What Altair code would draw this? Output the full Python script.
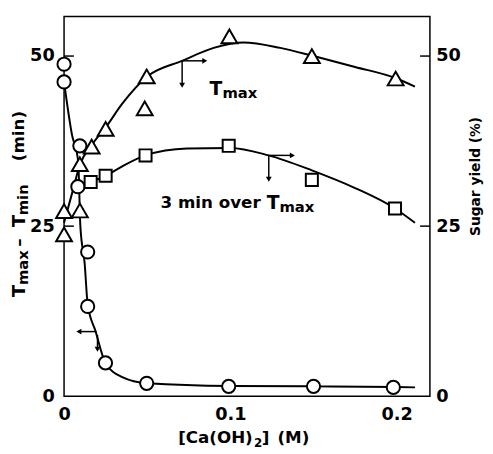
import altair as alt
import pandas as pd

FONT = "DejaVu Sans"

# ---- measured points ----
circ_x = [0.0, 0.0, 0.0095, 0.0083, 0.0142, 0.0142, 0.0249, 0.0497, 0.099, 0.150, 0.198]
circ_y = [48.8, 46.2, 36.8, 30.8, 21.2, 13.2, 4.9, 1.9, 1.45, 1.45, 1.3]

tri_x = [0.0, 0.0, 0.0095, 0.0095, 0.0166, 0.025, 0.0497, 0.0485, 0.0994, 0.149, 0.1994]
tri_y = [27.2, 23.8, 27.3, 34.1, 36.7, 39.3, 47.0, 42.3, 52.9, 50.0, 46.7]

sq_x = [0.016, 0.025, 0.049, 0.099, 0.149, 0.199]
sq_y = [31.5, 32.4, 35.4, 36.8, 31.8, 27.6]

# ---- hand-drawn fitted curves ----
circ_curve_x = [0.0, 0.0047, 0.0085, 0.0098, 0.0124, 0.0142, 0.0189, 0.0249, 0.035, 0.05, 0.1, 0.15, 0.2, 0.211]
circ_curve_y = [46.2, 38.5, 34.5, 25.0, 19.5, 13.5, 9.6, 4.9, 2.8, 1.9, 1.5, 1.45, 1.35, 1.3]

tri_curve_x = [0.0, 0.005, 0.0095, 0.0166, 0.025, 0.035, 0.05, 0.071, 0.09, 0.108, 0.13, 0.15, 0.175, 0.2, 0.211]
tri_curve_y = [25.5, 30.0, 34.0, 36.9, 39.5, 43.0, 47.0, 49.3, 51.2, 52.0, 51.2, 50.0, 48.4, 46.7, 45.5]

sq_curve_x = [0.016, 0.025, 0.035, 0.049, 0.074, 0.1, 0.123, 0.149, 0.175, 0.199, 0.211]
sq_curve_y = [31.5, 32.4, 33.8, 35.4, 36.4, 36.5, 35.4, 33.2, 30.6, 27.6, 25.5]

# axis ticks
x_ticks = [0, 0.1, 0.2]
y_ticks = [0, 25, 50]
inner_ticks = [25, 50]

# arrows (data coordinates): start, end, head shape
arr_x1 = [0.071, 0.071, 0.1231, 0.1231, 0.0195, 0.0201]
arr_y1 = [49.3, 49.3, 35.4, 35.4, 9.5, 9.0]
arr_x2 = [0.0846, 0.071, 0.1373, 0.1231, 0.0089, 0.0201]
arr_y2 = [49.3, 45.7, 35.4, 31.9, 9.5, 6.9]
arr_head = ["triangle-right", "triangle-down", "triangle-right", "triangle-down", "triangle-left", "triangle-down"]

# text pieces (pixel offsets from plot origin)
h_text = ["T", "max", "3 min over", "T", "max", "[Ca(OH)", "2", "]", "(M)"]
h_px = [148, 161, 98, 206, 219, 116, 193, 201, 217]
h_py = [80, 83, 195, 196, 199, 434, 438, 434, 434]
h_fs = [19, 15, 17, 19, 15, 17, 12, 17, 17]

v_text = ["T", "max", "\u2013", "T", "min", "(min)"]
v_px = [-40, -37, -41, -40, -37, -41]
v_py = [285, 273, 234, 214, 202, 147]
v_fs = [18, 15, 17, 18, 15, 17]

W, H = 372, 386
XMAX, YMAX = 0.22, 55.8

xscale = alt.Scale(domain=[0, XMAX], nice=False, zero=False)
yscale = alt.Scale(domain=[0, YMAX], nice=False, zero=False)

xaxis = alt.Axis(values=x_ticks, labelExpr="datum.value == 0 ? '0' : format(datum.value, '.1f')",
                 tickSize=0, domain=False, grid=False, labelPadding=10, labelFlush=False, title=None)
yaxis_left = alt.Axis(values=y_ticks, tickSize=0, domain=False, grid=False, labelPadding=10, title=None)
yaxis_right = alt.Axis(values=y_ticks, orient="right", tickSize=0, domain=False, grid=False,
                       labelPadding=6, title="Sugar yield (%)", titleAngle=270, titleX=46, titleY=162,
                       titleAlign="center", titleBaseline="middle", titleFontSize=14)

X = alt.X("x:Q", scale=xscale, axis=xaxis)

def Y(axis=None):
    return alt.Y("y:Q", scale=yscale, axis=axis)

df_cc = pd.DataFrame({"x": circ_curve_x, "y": circ_curve_y})
df_tc = pd.DataFrame({"x": tri_curve_x, "y": tri_curve_y})
df_sc = pd.DataFrame({"x": sq_curve_x, "y": sq_curve_y})
df_c = pd.DataFrame({"x": circ_x, "y": circ_y})
df_t = pd.DataFrame({"x": tri_x, "y": tri_y})
df_s = pd.DataFrame({"x": sq_x, "y": sq_y})
df_arr = pd.DataFrame({"x": arr_x1, "y": arr_y1, "x2": arr_x2, "y2": arr_y2, "s": arr_head})
df_tick = pd.DataFrame({"y": inner_ticks})
df_h = pd.DataFrame({"t": h_text, "px": h_px, "py": h_py, "fs": h_fs})
df_v = pd.DataFrame({"t": v_text, "px": v_px, "py": v_py, "fs": v_fs})

line_kw = dict(color="black", strokeWidth=2, interpolate="monotone")
pt_kw = dict(filled=True, fill="white", stroke="black", strokeWidth=2, opacity=1)

l_circ = alt.Chart(df_cc).mark_line(**line_kw).encode(x=X, y=Y(yaxis_left))
l_tri = alt.Chart(df_tc).mark_line(**line_kw).encode(x=X, y=Y(yaxis_right))
l_sq = alt.Chart(df_sc).mark_line(**line_kw).encode(x=X, y=Y())

p_circ = alt.Chart(df_c).mark_point(shape="circle", size=180, **pt_kw).encode(x=X, y=Y())
p_tri = alt.Chart(df_t).mark_point(shape="triangle-up", size=260, **pt_kw).encode(x=X, y=Y())
p_sq = alt.Chart(df_s).mark_point(shape="square", size=150, **pt_kw).encode(x=X, y=Y())

arr_lines = alt.Chart(df_arr).mark_rule(color="black", strokeWidth=1.5).encode(
    x=X, y=Y(), x2="x2:Q", y2="y2:Q")
arr_heads = alt.Chart(df_arr).mark_point(filled=True, color="black", size=35, opacity=1).encode(
    x=alt.X("x2:Q", scale=xscale, axis=xaxis), y=alt.Y("y2:Q", scale=yscale, axis=None),
    shape=alt.Shape("s:N", scale=None, legend=None))

tick_l = alt.Chart(df_tick).mark_rule(color="black", strokeWidth=1.5).encode(
    y=Y(), x=alt.value(0), x2=alt.value(10))
tick_r = alt.Chart(df_tick).mark_rule(color="black", strokeWidth=1.5).encode(
    y=Y(), x=alt.value(W - 10), x2=alt.value(W))

txt_h = alt.Chart(df_h).mark_text(font=FONT, fontWeight="bold", align="left", baseline="alphabetic",
                                  color="black").encode(
    x=alt.X("px:Q", scale=None, axis=None), y=alt.Y("py:Q", scale=None, axis=None),
    text="t:N", size=alt.Size("fs:Q", scale=None, legend=None))
txt_v = alt.Chart(df_v).mark_text(font=FONT, fontWeight="bold", align="left", baseline="alphabetic",
                                  angle=270, color="black").encode(
    x=alt.X("px:Q", scale=None, axis=None), y=alt.Y("py:Q", scale=None, axis=None),
    text="t:N", size=alt.Size("fs:Q", scale=None, legend=None))

chart = alt.layer(
    l_circ, l_tri, l_sq, arr_lines, arr_heads, tick_l, tick_r, p_circ, p_tri, p_sq, txt_h, txt_v
).resolve_scale(y="independent").properties(
    width=W, height=H,
    padding={"left": 57, "top": 5, "right": 56, "bottom": 55},
    autosize=alt.AutoSizeParams(type="none"),
    background="white",
).configure_view(stroke="black", strokeWidth=1.5).configure_axis(
    labelFont=FONT, labelFontWeight="bold", labelFontSize=18, labelColor="black",
    titleFont=FONT, titleFontWeight="bold", titleColor="black",
)

chart.save("out.html", embed_options={"renderer": "svg", "actions": False})
